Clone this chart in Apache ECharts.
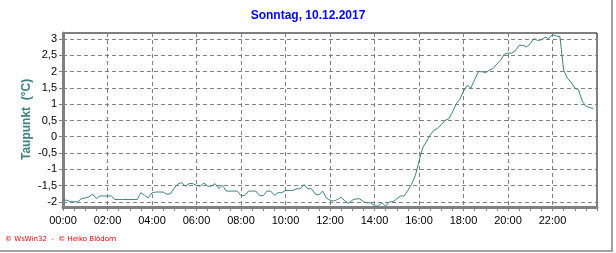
<!DOCTYPE html>
<html>
<head>
<meta charset="utf-8">
<script src="https://cdn.jsdelivr.net/npm/echarts@6/dist/echarts.min.js"></script>
<style>
html,body{margin:0;padding:0;background:#fff;}
#c{width:616px;height:253px;}
</style>
</head>
<body>
<div id="c"></div>
<script>
// Dew point (Taupunkt) in °C, one value every 10 minutes from 00:00
const values = [
 -1.95,-1.95,-2.0,-2.0,-2.0,-1.9,
 -1.88,-1.85,-1.76,-1.9,-1.82,-1.82,
 -1.82,-1.82,-1.93,-1.93,-1.93,-1.93,
 -1.93,-1.93,-1.93,-1.72,-1.8,-1.88,
 -1.72,-1.7,-1.7,-1.7,-1.77,-1.75,
 -1.58,-1.45,-1.41,-1.52,-1.44,-1.44,
 -1.5,-1.52,-1.42,-1.52,-1.52,-1.44,
 -1.59,-1.49,-1.67,-1.67,-1.67,-1.67,
 -1.81,-1.81,-1.67,-1.67,-1.67,-1.81,
 -1.81,-1.67,-1.67,-1.8,-1.72,-1.72,
 -1.65,-1.65,-1.65,-1.6,-1.6,-1.47,
 -1.6,-1.6,-1.76,-1.79,-1.67,-1.88,
 -1.95,-1.98,-1.93,-1.86,-1.97,-2.05,
 -1.95,-1.91,-1.91,-2.0,-2.03,-2.03,
 -2.13,-2.13,-2.03,-2.13,-2.0,-2.0,
 -1.91,-1.82,-1.82,-1.65,-1.46,-1.2,
 -0.75,-0.34,-0.15,0.05,0.2,0.26,
 0.37,0.5,0.55,0.75,1.0,1.15,
 1.4,1.58,1.5,1.76,2.0,2.0,
 1.97,2.05,2.1,2.24,2.35,2.54,
 2.57,2.57,2.65,2.81,2.81,2.76,
 2.86,3.02,2.96,2.98,3.06,3.02,
 3.14,3.1,3.08,2.05,1.8,1.68,
 1.5,1.45,1.1,0.94,0.9,0.87
];
const xTickLabels = ['00:00','02:00','04:00','06:00','08:00','10:00','12:00','14:00','16:00','18:00','20:00','22:00'];
const yTickValues = [-2,-1.5,-1,-0.5,0,0.5,1,1.5,2,2.5,3];
const titleText = 'Sonntag, 10.12.2017';
const yName = 'Taupunkt  (°C)';
const footerText = '© WsWin32  -  © Heiko Blödorn';

// category slots every 10 minutes, 00:00 .. 24:00
const cats = [];
for (let h = 0; h <= 24; h++) {
  for (let m = 0; m < 60; m += 10) {
    if (h === 24 && m > 0) break;
    cats.push(String(h).padStart(2,'0') + ':' + String(m).padStart(2,'0'));
  }
}
const labelSet = new Set(xTickLabels);

const chart = echarts.init(document.getElementById('c'), null, {renderer:'canvas'});
const gridCol = '#808080';
chart.setOption({
  animation: false,
  backgroundColor: '#ffffff',
  grid: {left: 63, right: 19, top: 33, bottom: 46, show: true, borderColor: '#000', borderWidth: 1, backgroundColor: 'transparent'},
  xAxis: {
    type: 'category',
    data: cats,
    boundaryGap: false,
    axisLine: {onZero: false, lineStyle: {color: gridCol, width: 3}},
    axisTick: {show: true, interval: function(i){ return i % 3 === 0; }, length: 4, lineStyle: {color: gridCol, width: 1}},
    axisLabel: {interval: function(i, v){ return labelSet.has(v) && i < cats.length - 1; }, color: '#000', fontFamily: 'Liberation Sans, Arial, sans-serif', fontSize: 11, margin: 8},
    splitLine: {show: true, interval: function(i, v){ return labelSet.has(v) && i > 0; }, lineStyle: {color: gridCol, type: [4,3], width: 1}}
  },
  yAxis: {
    type: 'value',
    min: -2.16,
    max: 3.19,
    axisLine: {show: true, onZero: false, lineStyle: {color: gridCol, width: 3}},
    axisTick: {show: true, length: 4, customValues: yTickValues, lineStyle: {color: gridCol}},
    axisLabel: {customValues: yTickValues, color: '#000', fontFamily: 'Liberation Sans, Arial, sans-serif', fontSize: 11, margin: 6,
      formatter: function(v){ return String(v).replace('.', ','); }},
    splitLine: {show: true, lineStyle: {color: gridCol, type: [4,3], width: 1}}
  },
  series: [{
    type: 'line',
    data: values,
    showSymbol: false,
    lineStyle: {color: '#408080', width: 1},
    itemStyle: {color: '#408080'}
  }],
  graphic: [
    {type: 'text', left: 'center', top: 10, style: {text: titleText, fill: '#0000ff', font: 'bold 12px "Liberation Sans", Arial, sans-serif'}},
    {type: 'text', rotation: Math.PI/2, x: 21, y: 160, style: {text: yName, fill: '#408080', font: 'bold 12px "Liberation Sans", Arial, sans-serif'}},
    {type: 'text', x: 5, y: 236, style: {text: footerText, fill: '#e00000', font: '7px "DejaVu Sans", sans-serif'}},
    {type: 'line', shape: {x1: 612, y1: 0, x2: 612, y2: 252}, style: {stroke: '#a0a0a0', lineWidth: 2}},
    {type: 'line', shape: {x1: 0, y1: 251, x2: 613, y2: 251}, style: {stroke: '#a0a0a0', lineWidth: 2}}
  ]
});
</script>
</body>
</html>
